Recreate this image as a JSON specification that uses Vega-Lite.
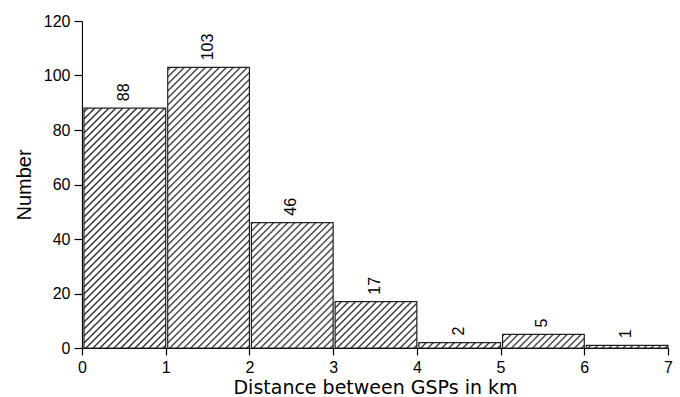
{
  "$schema": "https://vega.github.io/schema/vega-lite/v6.json",
  "width": 586,
  "height": 327,
  "autosize": {"type": "none"},
  "padding": {"left": 82, "top": 21, "right": 12, "bottom": 49},
  "background": "white",
  "config": {
    "view": {"stroke": null},
    "font": "Liberation Sans",
    "axis": {
      "grid": false,
      "domainColor": "#000",
      "domainWidth": 1.2,
      "tickColor": "#000",
      "tickWidth": 1.2,
      "labelFont": "Liberation Sans",
      "labelFontSize": 16,
      "labelColor": "#000",
      "titleFontWeight": "normal",
      "titleColor": "#000"
    }
  },
  "data": {
    "values": [
      {"start": 0, "end": 1, "mid": 0.5, "n": 88},
      {"start": 1, "end": 2, "mid": 1.5, "n": 103},
      {"start": 2, "end": 3, "mid": 2.5, "n": 46},
      {"start": 3, "end": 4, "mid": 3.5, "n": 17},
      {"start": 4, "end": 5, "mid": 4.5, "n": 2},
      {"start": 5, "end": 6, "mid": 5.5, "n": 5},
      {"start": 6, "end": 7, "mid": 6.5, "n": 1}
    ]
  },
  "encoding": {
    "x": {
      "field": "start", "type": "quantitative",
      "scale": {"domain": [0, 7], "nice": false, "zero": false},
      "axis": {"values": [0, 1, 2, 3, 4, 5, 6, 7], "format": "d", "tickSize": 7, "labelPadding": 4, "titlePadding": 3, "title": "Distance between GSPs in km", "titleFont": "DejaVu Sans", "titleFontSize": 19, "labelFlush": false}
    },
    "x2": {"field": "end"}
  },
  "layer": [
    {
      "mark": {
        "type": "bar", "xOffset": 2, "x2Offset": 0, "strokeWidth": 0,
        "fill": {
          "gradient": "linear", "x1": 0, "y1": 0, "x2": 0.5034, "y2": 2.0149,
          "stops": [
            {"offset":0,"color":"#222"},{"offset":0.0025,"color":"#fff"},{"offset":0.0075,"color":"#fff"},
            {"offset":0.01,"color":"#222"},{"offset":0.0125,"color":"#fff"},{"offset":0.0175,"color":"#fff"},
            {"offset":0.02,"color":"#222"},{"offset":0.0225,"color":"#fff"},{"offset":0.0275,"color":"#fff"},
            {"offset":0.03,"color":"#222"},{"offset":0.0325,"color":"#fff"},{"offset":0.0375,"color":"#fff"},
            {"offset":0.04,"color":"#222"},{"offset":0.0425,"color":"#fff"},{"offset":0.0475,"color":"#fff"},
            {"offset":0.05,"color":"#222"},{"offset":0.0525,"color":"#fff"},{"offset":0.0575,"color":"#fff"},
            {"offset":0.06,"color":"#222"},{"offset":0.0625,"color":"#fff"},{"offset":0.0675,"color":"#fff"},
            {"offset":0.07,"color":"#222"},{"offset":0.0725,"color":"#fff"},{"offset":0.0775,"color":"#fff"},
            {"offset":0.08,"color":"#222"},{"offset":0.0825,"color":"#fff"},{"offset":0.0875,"color":"#fff"},
            {"offset":0.09,"color":"#222"},{"offset":0.0925,"color":"#fff"},{"offset":0.0975,"color":"#fff"},
            {"offset":0.1,"color":"#222"},{"offset":0.1025,"color":"#fff"},{"offset":0.1075,"color":"#fff"},
            {"offset":0.11,"color":"#222"},{"offset":0.1125,"color":"#fff"},{"offset":0.1175,"color":"#fff"},
            {"offset":0.12,"color":"#222"},{"offset":0.1225,"color":"#fff"},{"offset":0.1275,"color":"#fff"},
            {"offset":0.13,"color":"#222"},{"offset":0.1325,"color":"#fff"},{"offset":0.1375,"color":"#fff"},
            {"offset":0.14,"color":"#222"},{"offset":0.1425,"color":"#fff"},{"offset":0.1475,"color":"#fff"},
            {"offset":0.15,"color":"#222"},{"offset":0.1525,"color":"#fff"},{"offset":0.1575,"color":"#fff"},
            {"offset":0.16,"color":"#222"},{"offset":0.1625,"color":"#fff"},{"offset":0.1675,"color":"#fff"},
            {"offset":0.17,"color":"#222"},{"offset":0.1725,"color":"#fff"},{"offset":0.1775,"color":"#fff"},
            {"offset":0.18,"color":"#222"},{"offset":0.1825,"color":"#fff"},{"offset":0.1875,"color":"#fff"},
            {"offset":0.19,"color":"#222"},{"offset":0.1925,"color":"#fff"},{"offset":0.1975,"color":"#fff"},
            {"offset":0.2,"color":"#222"},{"offset":0.2025,"color":"#fff"},{"offset":0.2075,"color":"#fff"},
            {"offset":0.21,"color":"#222"},{"offset":0.2125,"color":"#fff"},{"offset":0.2175,"color":"#fff"},
            {"offset":0.22,"color":"#222"},{"offset":0.2225,"color":"#fff"},{"offset":0.2275,"color":"#fff"},
            {"offset":0.23,"color":"#222"},{"offset":0.2325,"color":"#fff"},{"offset":0.2375,"color":"#fff"},
            {"offset":0.24,"color":"#222"},{"offset":0.2425,"color":"#fff"},{"offset":0.2475,"color":"#fff"},
            {"offset":0.25,"color":"#222"},{"offset":0.2525,"color":"#fff"},{"offset":0.2575,"color":"#fff"},
            {"offset":0.26,"color":"#222"},{"offset":0.2625,"color":"#fff"},{"offset":0.2675,"color":"#fff"},
            {"offset":0.27,"color":"#222"},{"offset":0.2725,"color":"#fff"},{"offset":0.2775,"color":"#fff"},
            {"offset":0.28,"color":"#222"},{"offset":0.2825,"color":"#fff"},{"offset":0.2875,"color":"#fff"},
            {"offset":0.29,"color":"#222"},{"offset":0.2925,"color":"#fff"},{"offset":0.2975,"color":"#fff"},
            {"offset":0.3,"color":"#222"},{"offset":0.3025,"color":"#fff"},{"offset":0.3075,"color":"#fff"},
            {"offset":0.31,"color":"#222"},{"offset":0.3125,"color":"#fff"},{"offset":0.3175,"color":"#fff"},
            {"offset":0.32,"color":"#222"},{"offset":0.3225,"color":"#fff"},{"offset":0.3275,"color":"#fff"},
            {"offset":0.33,"color":"#222"},{"offset":0.3325,"color":"#fff"},{"offset":0.3375,"color":"#fff"},
            {"offset":0.34,"color":"#222"},{"offset":0.3425,"color":"#fff"},{"offset":0.3475,"color":"#fff"},
            {"offset":0.35,"color":"#222"},{"offset":0.3525,"color":"#fff"},{"offset":0.3575,"color":"#fff"},
            {"offset":0.36,"color":"#222"},{"offset":0.3625,"color":"#fff"},{"offset":0.3675,"color":"#fff"},
            {"offset":0.37,"color":"#222"},{"offset":0.3725,"color":"#fff"},{"offset":0.3775,"color":"#fff"},
            {"offset":0.38,"color":"#222"},{"offset":0.3825,"color":"#fff"},{"offset":0.3875,"color":"#fff"},
            {"offset":0.39,"color":"#222"},{"offset":0.3925,"color":"#fff"},{"offset":0.3975,"color":"#fff"},
            {"offset":0.4,"color":"#222"},{"offset":0.4025,"color":"#fff"},{"offset":0.4075,"color":"#fff"},
            {"offset":0.41,"color":"#222"},{"offset":0.4125,"color":"#fff"},{"offset":0.4175,"color":"#fff"},
            {"offset":0.42,"color":"#222"},{"offset":0.4225,"color":"#fff"},{"offset":0.4275,"color":"#fff"},
            {"offset":0.43,"color":"#222"},{"offset":0.4325,"color":"#fff"},{"offset":0.4375,"color":"#fff"},
            {"offset":0.44,"color":"#222"},{"offset":0.4425,"color":"#fff"},{"offset":0.4475,"color":"#fff"},
            {"offset":0.45,"color":"#222"},{"offset":0.4525,"color":"#fff"},{"offset":0.4575,"color":"#fff"},
            {"offset":0.46,"color":"#222"},{"offset":0.4625,"color":"#fff"},{"offset":0.4675,"color":"#fff"},
            {"offset":0.47,"color":"#222"},{"offset":0.4725,"color":"#fff"},{"offset":0.4775,"color":"#fff"},
            {"offset":0.48,"color":"#222"},{"offset":0.4825,"color":"#fff"},{"offset":0.4875,"color":"#fff"},
            {"offset":0.49,"color":"#222"},{"offset":0.4925,"color":"#fff"},{"offset":0.4975,"color":"#fff"},
            {"offset":0.5,"color":"#222"},{"offset":0.5025,"color":"#fff"},{"offset":0.5075,"color":"#fff"},
            {"offset":0.51,"color":"#222"},{"offset":0.5125,"color":"#fff"},{"offset":0.5175,"color":"#fff"},
            {"offset":0.52,"color":"#222"},{"offset":0.5225,"color":"#fff"},{"offset":0.5275,"color":"#fff"},
            {"offset":0.53,"color":"#222"},{"offset":0.5325,"color":"#fff"},{"offset":0.5375,"color":"#fff"},
            {"offset":0.54,"color":"#222"},{"offset":0.5425,"color":"#fff"},{"offset":0.5475,"color":"#fff"},
            {"offset":0.55,"color":"#222"},{"offset":0.5525,"color":"#fff"},{"offset":0.5575,"color":"#fff"},
            {"offset":0.56,"color":"#222"},{"offset":0.5625,"color":"#fff"},{"offset":0.5675,"color":"#fff"},
            {"offset":0.57,"color":"#222"},{"offset":0.5725,"color":"#fff"},{"offset":0.5775,"color":"#fff"},
            {"offset":0.58,"color":"#222"},{"offset":0.5825,"color":"#fff"},{"offset":0.5875,"color":"#fff"},
            {"offset":0.59,"color":"#222"},{"offset":0.5925,"color":"#fff"},{"offset":0.5975,"color":"#fff"}
          ]
        }
      },
      "encoding": {
        "y": {
          "datum": 120, "type": "quantitative",
          "scale": {"domain": [0, 120], "nice": false},
          "axis": {"values": [0, 20, 40, 60, 80, 100, 120], "tickSize": 8, "labelPadding": 4, "titlePadding": 9, "title": "Number", "titleFont": "Liberation Sans", "titleFontSize": 20}
        },
        "y2": {"datum": 0}
      }
    },
    {
      "mark": {"type": "bar", "fill": "#fff", "strokeWidth": 0, "xOffset": 1, "x2Offset": 1, "y2Offset": -1},
      "encoding": {
        "y": {"field": "n", "type": "quantitative"},
        "y2": {"datum": 120}
      }
    },
    {
      "mark": {"type": "bar", "fillOpacity": 0, "stroke": "#222", "strokeWidth": 1.2, "xOffset": 2, "x2Offset": 0},
      "encoding": {
        "y": {"field": "n", "type": "quantitative"},
        "y2": {"datum": 0}
      }
    },
    {
      "mark": {"type": "text", "angle": 270, "align": "left", "baseline": "middle", "dx": 7, "fontSize": 16, "color": "#000"},
      "encoding": {
        "x": {"field": "mid", "type": "quantitative"},
        "x2": null,
        "y": {"field": "n", "type": "quantitative"},
        "text": {"field": "n", "type": "quantitative"}
      }
    }
  ]
}
